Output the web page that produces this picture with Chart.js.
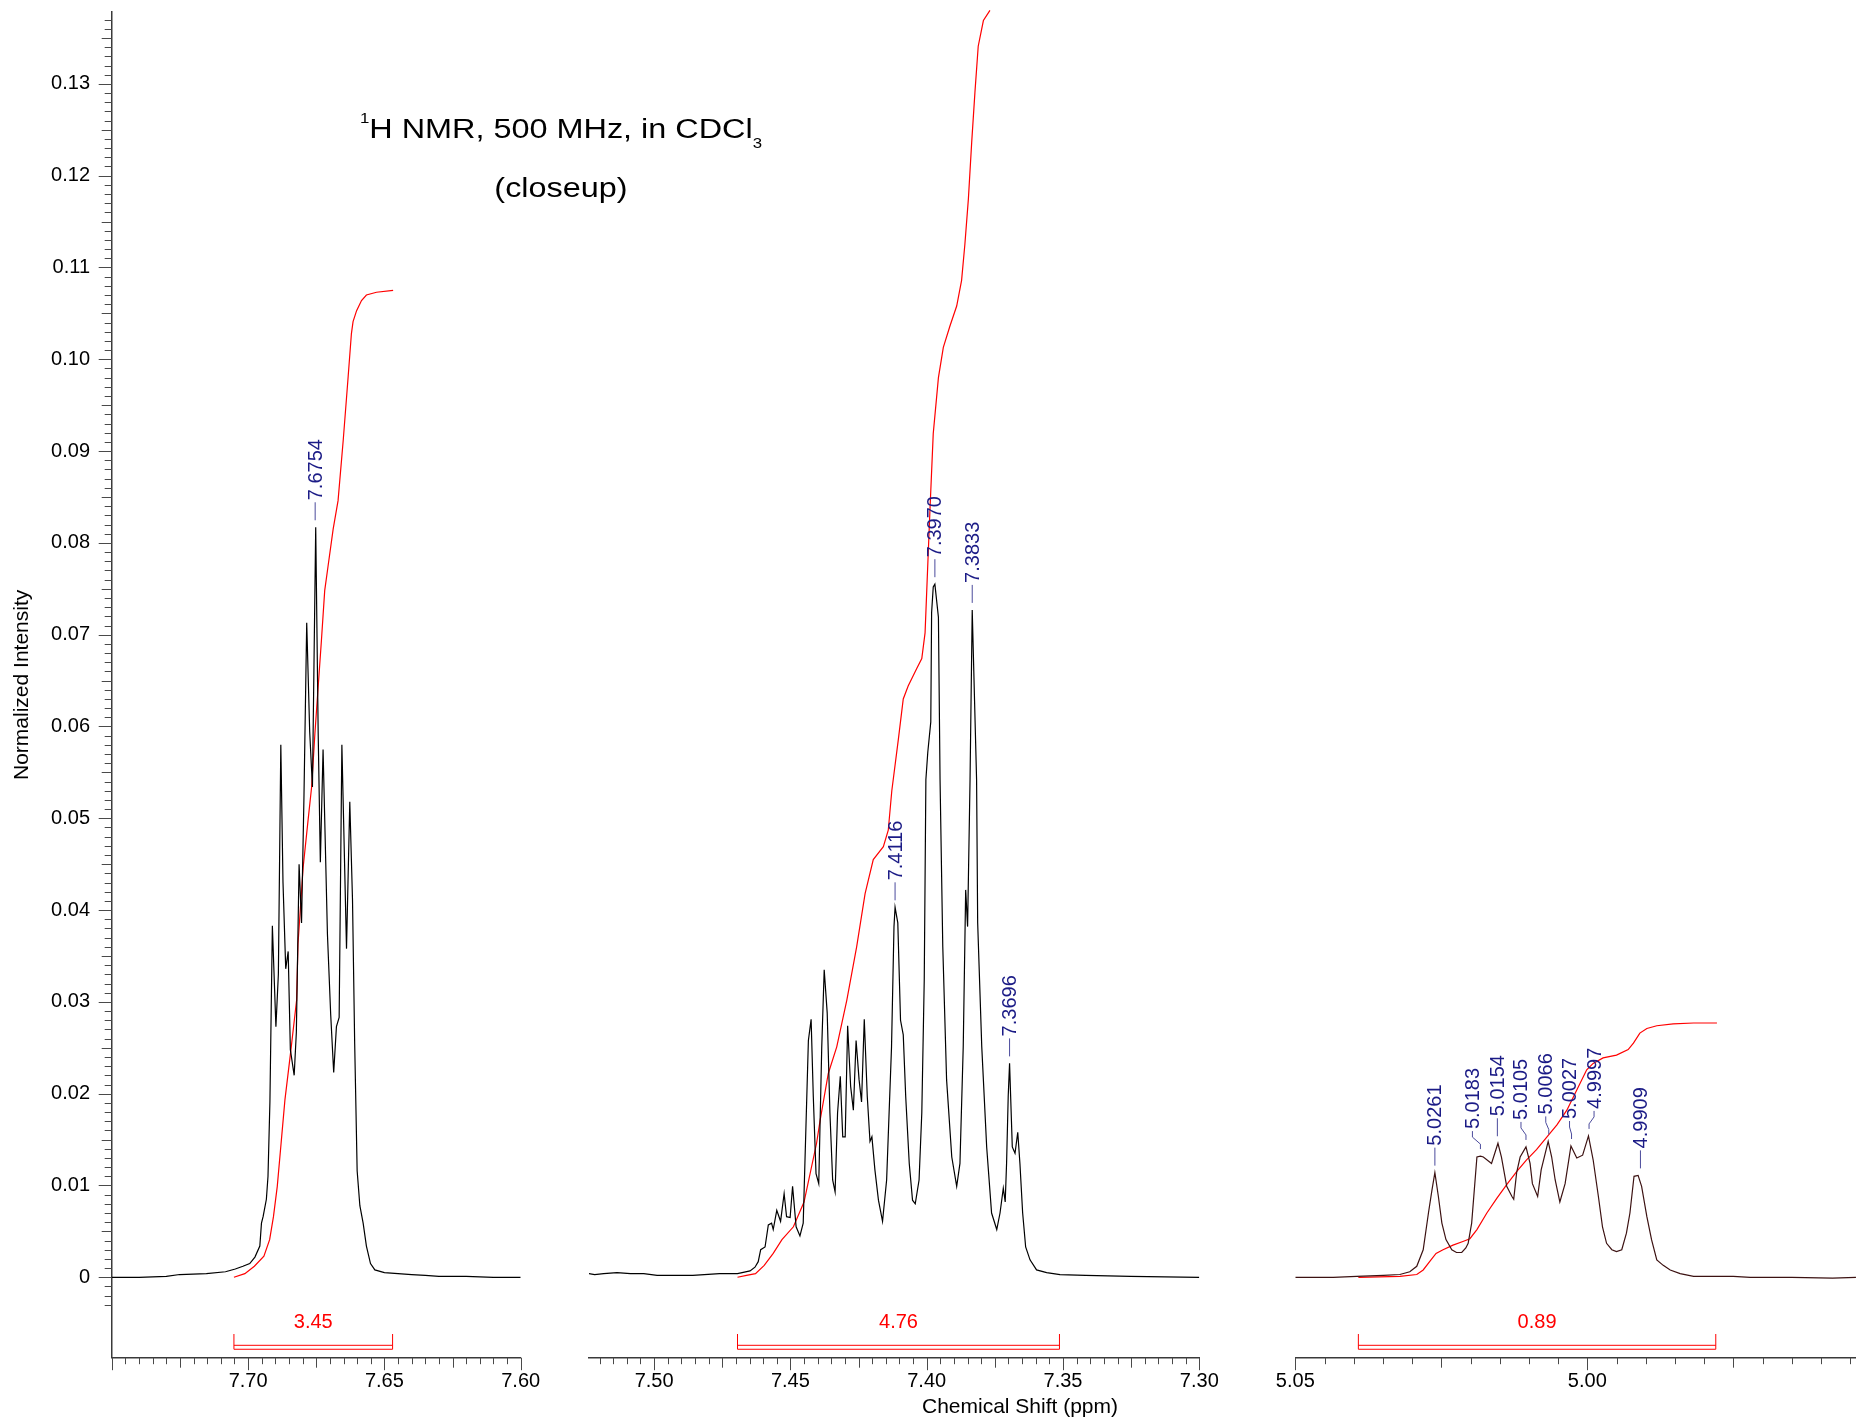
<!DOCTYPE html>
<html>
<head>
<meta charset="utf-8">
<title>1H NMR closeup</title>
<script src="https://cdn.jsdelivr.net/npm/chart.js@4.4.1/dist/chart.umd.min.js"></script>
<style>
    body { margin: 0; width: 1856px; height: 1420px; overflow: hidden; position: relative; background: #fff;
           font-family: "Liberation Sans", Arial, sans-serif; color: #000; }
    canvas { position: absolute; top: 0; }
    .txt { position: absolute; white-space: nowrap; text-align: center; }
    #title1, #title2 { left: 0; width: 1122px; font-size: 27px; line-height: 30px; transform: scaleX(1.2); transform-origin: 561px 0; }
    #title1 { top: 114px; }
    #title2 { top: 173px; }
    .sup, .sub { font-size: 14px; position: relative; }
    .sup { top: -15px; }
    .sub { top: 10px; }
    #xtitle { left: 820px; width: 400px; top: 1394px; font-size: 21px; line-height: 24px; }
</style>
</head>
<body>
<canvas id="seg1" width="560" height="1420" style="left:0px"></canvas>
<canvas id="seg2" width="690" height="1420" style="left:549px"></canvas>
<canvas id="seg3" width="601" height="1420" style="left:1255px"></canvas>
<div class="txt" id="title1"><span class="sup">1</span>H NMR, 500 MHz, in CDCl<span class="sub">3</span></div>
<div class="txt" id="title2">(closeup)</div>
<div class="txt" id="xtitle">Chemical Shift (ppm)</div>
<script>
// ---------------- data ----------------
// 7.60 - 7.75 ppm window
const spec1Ppm = [7.7504, 7.7400, 7.7300, 7.7251, 7.7153, 7.7083, 7.7047, 7.7019, 7.6994, 7.6975, 7.6957, 7.6951, 7.6945, 7.6933, 7.6927, 7.6920, 7.6911, 7.6898, 7.6889, 7.6880, 7.6872, 7.6862, 7.6853, 7.6845, 7.6831, 7.6823, 7.6813, 7.6804, 7.6795, 7.6785, 7.6774, 7.6764, 7.6752, 7.6743, 7.6735, 7.6725, 7.6709, 7.6697, 7.6686, 7.6676, 7.6666, 7.6656, 7.6639, 7.6627, 7.6617, 7.6609, 7.6600, 7.6590, 7.6578, 7.6566, 7.6551, 7.6535, 7.6500, 7.6450, 7.6400, 7.6350, 7.6300, 7.6200, 7.6100, 7.6000];
const spec1Int = [0.0000, 0.0000, 0.0001, 0.0003, 0.0004, 0.0006, 0.0009, 0.0012, 0.0015, 0.0022, 0.0034, 0.0059, 0.0066, 0.0085, 0.0110, 0.0191, 0.0383, 0.0273, 0.0330, 0.0580, 0.0430, 0.0336, 0.0355, 0.0248, 0.0220, 0.0267, 0.0450, 0.0386, 0.0525, 0.0713, 0.0594, 0.0534, 0.0817, 0.0594, 0.0452, 0.0575, 0.0374, 0.0286, 0.0223, 0.0273, 0.0283, 0.0580, 0.0358, 0.0518, 0.0411, 0.0254, 0.0116, 0.0078, 0.0059, 0.0034, 0.0015, 0.0008, 0.0005, 0.0004, 0.0003, 0.0002, 0.0001, 0.0001, 0.0000, 0.0000];

// 7.30 - 7.52 ppm window
const spec2Ppm = [7.5239, 7.5218, 7.5185, 7.5136, 7.5087, 7.5038, 7.4989, 7.4923, 7.4858, 7.4760, 7.4694, 7.4648, 7.4630, 7.4618, 7.4609, 7.4593, 7.4581, 7.4569, 7.4563, 7.4550, 7.4536, 7.4523, 7.4514, 7.4501, 7.4492, 7.4479, 7.4465, 7.4453, 7.4434, 7.4424, 7.4416, 7.4406, 7.4396, 7.4385, 7.4376, 7.4365, 7.4355, 7.4345, 7.4336, 7.4327, 7.4317, 7.4308, 7.4299, 7.4290, 7.4279, 7.4269, 7.4259, 7.4248, 7.4239, 7.4229, 7.4218, 7.4208, 7.4201, 7.4190, 7.4177, 7.4162, 7.4147, 7.4129, 7.4120, 7.4116, 7.4106, 7.4096, 7.4086, 7.4077, 7.4064, 7.4052, 7.4042, 7.4028, 7.4018, 7.4009, 7.4003, 7.3996, 7.3985, 7.3982, 7.3976, 7.3970, 7.3957, 7.3951, 7.3941, 7.3927, 7.3908, 7.3890, 7.3878, 7.3866, 7.3857, 7.3850, 7.3841, 7.3833, 7.3817, 7.3813, 7.3798, 7.3780, 7.3762, 7.3743, 7.3731, 7.3719, 7.3712, 7.3707, 7.3701, 7.3696, 7.3686, 7.3676, 7.3666, 7.3658, 7.3648, 7.3637, 7.3621, 7.3597, 7.3560, 7.3511, 7.3417, 7.3253, 7.3000];
const spec2Int = [0.0004, 0.0003, 0.0004, 0.0005, 0.0004, 0.0004, 0.0002, 0.0002, 0.0002, 0.0004, 0.0004, 0.0007, 0.0011, 0.0017, 0.0030, 0.0033, 0.0057, 0.0059, 0.0052, 0.0073, 0.0061, 0.0091, 0.0066, 0.0065, 0.0099, 0.0055, 0.0045, 0.0059, 0.0258, 0.0281, 0.0197, 0.0113, 0.0102, 0.0251, 0.0335, 0.0288, 0.0179, 0.0106, 0.0093, 0.0179, 0.0219, 0.0153, 0.0153, 0.0274, 0.0208, 0.0182, 0.0258, 0.0215, 0.0191, 0.0281, 0.0197, 0.0148, 0.0153, 0.0117, 0.0084, 0.0061, 0.0106, 0.0251, 0.0382, 0.0403, 0.0386, 0.0280, 0.0264, 0.0197, 0.0124, 0.0084, 0.0080, 0.0106, 0.0179, 0.0324, 0.0542, 0.0572, 0.0605, 0.0724, 0.0752, 0.0755, 0.0719, 0.0542, 0.0360, 0.0215, 0.0131, 0.0099, 0.0124, 0.0251, 0.0422, 0.0382, 0.0542, 0.0727, 0.0542, 0.0386, 0.0251, 0.0142, 0.0070, 0.0052, 0.0070, 0.0097, 0.0082, 0.0124, 0.0197, 0.0233, 0.0142, 0.0135, 0.0158, 0.0124, 0.0070, 0.0033, 0.0019, 0.0008, 0.0005, 0.0003, 0.0002, 0.0001, 0.0000];

// 4.95 - 5.05 ppm window
const spec3Ppm = [5.0500, 5.0492, 5.0435, 5.0395, 5.0349, 5.0321, 5.0304, 5.0292, 5.0281, 5.0272, 5.0266, 5.0261, 5.0255, 5.0249, 5.0242, 5.0232, 5.0224, 5.0215, 5.0208, 5.0204, 5.0198, 5.0189, 5.0183, 5.0178, 5.0164, 5.0153, 5.0147, 5.0138, 5.0129, 5.0126, 5.0121, 5.0115, 5.0105, 5.0098, 5.0094, 5.0085, 5.0079, 5.0067, 5.0061, 5.0055, 5.0047, 5.0038, 5.0028, 5.0018, 5.0008, 4.9998, 4.9990, 4.9981, 4.9974, 4.9967, 4.9958, 4.9950, 4.9941, 4.9933, 4.9927, 4.9920, 4.9913, 4.9907, 4.9898, 4.9890, 4.9881, 4.9870, 4.9858, 4.9841, 4.9818, 4.9790, 4.9750, 4.9721, 4.9650, 4.9580, 4.9540];
const spec3Int = [0.0000, 0.0000, 0.0000, 0.0001, 0.0002, 0.0003, 0.0006, 0.0012, 0.0030, 0.0070, 0.0095, 0.0114, 0.0088, 0.0059, 0.0041, 0.0030, 0.0027, 0.0027, 0.0032, 0.0037, 0.0059, 0.0131, 0.0132, 0.0131, 0.0124, 0.0146, 0.0131, 0.0099, 0.0088, 0.0085, 0.0114, 0.0131, 0.0142, 0.0124, 0.0102, 0.0088, 0.0117, 0.0148, 0.0131, 0.0106, 0.0082, 0.0102, 0.0143, 0.0130, 0.0133, 0.0154, 0.0128, 0.0088, 0.0055, 0.0037, 0.0030, 0.0028, 0.0030, 0.0048, 0.0070, 0.0110, 0.0111, 0.0099, 0.0066, 0.0041, 0.0019, 0.0013, 0.0008, 0.0004, 0.0001, 0.0001, 0.0001, 0.0000, 0.0000, -0.0001, 0.0000];

// integral curves (red)
const integ1Ppm = [7.7052, 7.7012, 7.6977, 7.6942, 7.6921, 7.6907, 7.6893, 7.6879, 7.6865, 7.6844, 7.6822, 7.6817, 7.6798, 7.6780, 7.6767, 7.6755, 7.6743, 7.6731, 7.6719, 7.6707, 7.6688, 7.6670, 7.6651, 7.6633, 7.6621, 7.6615, 7.6602, 7.6584, 7.6566, 7.6529, 7.6468];
const integ1Int = [0.0000, 0.0004, 0.0012, 0.0023, 0.0041, 0.0066, 0.0099, 0.0146, 0.0193, 0.0245, 0.0302, 0.0363, 0.0447, 0.0498, 0.0534, 0.0592, 0.0643, 0.0694, 0.0748, 0.0774, 0.0815, 0.0846, 0.0912, 0.0981, 0.1028, 0.1041, 0.1053, 0.1064, 0.1070, 0.1073, 0.1075];
const integ2Ppm = [7.4694, 7.4661, 7.4628, 7.4596, 7.4563, 7.4531, 7.4489, 7.4450, 7.4404, 7.4391, 7.4361, 7.4330, 7.4293, 7.4257, 7.4226, 7.4196, 7.4159, 7.4141, 7.4128, 7.4104, 7.4086, 7.4068, 7.4037, 7.4018, 7.4006, 7.3988, 7.3976, 7.3957, 7.3939, 7.3915, 7.3890, 7.3872, 7.3860, 7.3847, 7.3835, 7.3823, 7.3811, 7.3792, 7.3768];
const integ2Int = [0.0000, 0.0002, 0.0004, 0.0013, 0.0026, 0.0041, 0.0055, 0.0082, 0.0146, 0.0171, 0.0222, 0.0251, 0.0302, 0.0360, 0.0418, 0.0455, 0.0469, 0.0487, 0.0530, 0.0586, 0.0630, 0.0644, 0.0663, 0.0674, 0.0702, 0.0836, 0.0919, 0.0980, 0.1013, 0.1036, 0.1058, 0.1086, 0.1125, 0.1175, 0.1236, 0.1291, 0.1341, 0.1369, 0.1380];
const integ3Ppm = [5.0392, 5.0321, 5.0292, 5.0281, 5.0270, 5.0259, 5.0247, 5.0230, 5.0213, 5.0201, 5.0189, 5.0172, 5.0155, 5.0138, 5.0121, 5.0104, 5.0087, 5.0069, 5.0052, 5.0035, 5.0018, 5.0001, 4.9990, 4.9973, 4.9950, 4.9930, 4.9921, 4.9910, 4.9898, 4.9881, 4.9853, 4.9818, 4.9778];
const integ3Int = [0.0000, 0.0001, 0.0003, 0.0008, 0.0017, 0.0026, 0.0030, 0.0035, 0.0039, 0.0042, 0.0052, 0.0070, 0.0086, 0.0101, 0.0115, 0.0128, 0.0139, 0.0153, 0.0166, 0.0182, 0.0204, 0.0226, 0.0233, 0.0239, 0.0242, 0.0248, 0.0255, 0.0266, 0.0271, 0.0274, 0.0276, 0.0277, 0.0277];

// integration ranges and values
const integralFrom = [7.7052, 7.4694, 5.0392];
const integralTo = [7.6470, 7.3513, 4.9780];
const integralValue = ['3.45', '4.76', '0.89'];

// picked peaks
const peakPpm = [7.6754, 7.4116, 7.3970, 7.3833, 7.3696, 5.0261, 5.0183, 5.0154, 5.0105, 5.0066, 5.0027, 4.9997, 4.9909];
const peakInt = [0.0817, 0.0403, 0.0755, 0.0727, 0.0233, 0.0114, 0.0132, 0.0146, 0.0142, 0.0148, 0.0143, 0.0154, 0.0111];

// tick labels
const xTicks1 = [7.70, 7.65, 7.60];
const xTicks2 = [7.50, 7.45, 7.40, 7.35, 7.30];
const xTicks3 = [5.05, 5.00];
const yTicks = [0, 0.01, 0.02, 0.03, 0.04, 0.05, 0.06, 0.07, 0.08, 0.09, 0.10, 0.11, 0.12, 0.13];

// ---------------- layout / style ----------------
const FONT = '"Liberation Sans", Arial, sans-serif';
const Y_MIN = -0.00876, Y_MAX = 0.13783;
const LABEL_COLOR = '#1b1b86';
const LEADER_COLOR = '#4b4b9c';
const TICK_COLOR = '#4a4a4a';
// sideways shift (px) of crowded peak labels, same order as peakPpm
const labelShift = [0, 0, 0, 0, 0, 0, -8, 0, -5, -3, -2, 5, 0];

Chart.defaults.font.family = FONT;
Chart.defaults.color = '#000';

const toPoints = (xs, ys) => xs.map((v, i) => ({ x: v, y: ys[i] }));

// minor ticks, peak labels and integral brackets
const decorations = {
    id: 'decorations',
    afterDraw(chart) {
        const { ctx, chartArea: area, scales: { x, y } } = chart;
        ctx.save();

        // x ticks every 0.005 ppm
        ctx.strokeStyle = TICK_COLOR;
        ctx.lineWidth = 1;
        ctx.beginPath();
        const lo = Math.ceil(x.min * 200 - 1e-6), hi = Math.floor(x.max * 200 + 1e-6);
        for (let k = lo; k <= hi; k++) {
            const px = Math.round(x.getPixelForValue(k / 200)) + 0.5;
            const len = k % 10 === 0 ? 12.5 : (k % 5 === 0 ? 10 : 6.5);
            ctx.moveTo(px, area.bottom);
            ctx.lineTo(px, area.bottom + len);
        }
        // y ticks every 0.001 (only on the first panel)
        if (chart.options.scales.y.display) {
            for (let k = -3; k <= 137; k++) {
                const py = Math.round(y.getPixelForValue(k / 1000)) + 0.5;
                const len = k % 10 === 0 ? 13 : (k % 5 === 0 ? 10 : 7);
                ctx.moveTo(area.left - len, py);
                ctx.lineTo(area.left, py);
            }
        }
        ctx.stroke();

        // peak labels
        ctx.font = '20px ' + FONT;
        peakPpm.forEach((p, i) => {
            if (p < x.min || p > x.max) return;
            const px = x.getPixelForValue(p);
            const py = y.getPixelForValue(peakInt[i]);
            const tx = px + labelShift[i];
            ctx.strokeStyle = LEADER_COLOR;
            ctx.beginPath();
            ctx.moveTo(px, py - 7);
            if (labelShift[i] !== 0) {
                ctx.lineTo(px, py - 12);
                ctx.lineTo(tx, py - 19);
            }
            ctx.lineTo(tx, py - 25);
            ctx.stroke();
            ctx.save();
            ctx.translate(tx, py - 27);
            ctx.rotate(-Math.PI / 2);
            ctx.fillStyle = LABEL_COLOR;
            ctx.textAlign = 'left';
            ctx.textBaseline = 'middle';
            ctx.fillText(p.toFixed(4), 0, 1);
            ctx.restore();
        });

        // integral brackets
        integralFrom.forEach((a, i) => {
            if (a < x.min || a > x.max) return;
            const x1 = x.getPixelForValue(a), x2 = x.getPixelForValue(integralTo[i]);
            const yTop = y.getPixelForValue(-0.00618);
            const yA = y.getPixelForValue(-0.00741);
            const yB = y.getPixelForValue(-0.00784);
            ctx.strokeStyle = '#ff0000';
            ctx.lineWidth = 1;
            ctx.beginPath();
            ctx.moveTo(x1, yTop); ctx.lineTo(x1, yB);
            ctx.moveTo(x2, yTop); ctx.lineTo(x2, yB);
            ctx.moveTo(x1, yA); ctx.lineTo(x2, yA);
            ctx.moveTo(x1, yB); ctx.lineTo(x2, yB);
            ctx.stroke();
            ctx.fillStyle = '#ff0000';
            ctx.textAlign = 'center';
            ctx.textBaseline = 'middle';
            ctx.fillText(integralValue[i], (x1 + x2) / 2, y.getPixelForValue(-0.00492));
        });
        ctx.restore();
    }
};

function makePanel(id, cfg) {
    new Chart(document.getElementById(id), {
        type: 'line',
        data: {
            datasets: [
                { data: toPoints(cfg.specPpm, cfg.specInt), borderColor: cfg.specColor, borderWidth: 1.2 },
                { data: toPoints(cfg.integPpm, cfg.integInt), borderColor: '#ff0000', borderWidth: 1.2, clip: false }
            ]
        },
        options: {
            responsive: false,
            animation: false,
            devicePixelRatio: 1,
            elements: { point: { radius: 0 }, line: { tension: 0 } },
            layout: { padding: { top: 12, bottom: 0, left: cfg.padLeft, right: cfg.padRight } },
            plugins: { legend: { display: false }, tooltip: { enabled: false } },
            scales: {
                x: {
                    type: 'linear',
                    reverse: true,
                    min: cfg.min,
                    max: cfg.max,
                    grid: { display: false, drawTicks: false },
                    border: { display: true, color: '#3a3a3a', width: 1.5 },
                    afterBuildTicks: scale => { scale.ticks = cfg.ticks.map(v => ({ value: v })); },
                    afterFit: scale => {
                        scale.height = 62.3;
                        scale.paddingLeft = 0;
                        scale.paddingRight = 0;
                    },
                    ticks: {
                        autoSkip: false, maxRotation: 0, padding: 12,
                        font: { size: 20 }, color: '#000',
                        callback: v => v.toFixed(2)
                    }
                },
                y: {
                    type: 'linear',
                    display: cfg.showY,
                    min: Y_MIN,
                    max: Y_MAX,
                    grid: { display: false, drawTicks: false },
                    border: { display: true, color: '#3a3a3a', width: 1.5 },
                    afterBuildTicks: scale => { scale.ticks = yTicks.map(v => ({ value: v })); },
                    afterFit: scale => {
                        scale.width = cfg.showY ? 111.7 : 0;
                        scale.paddingTop = 0;
                        scale.paddingBottom = 0;
                    },
                    title: {
                        display: true, text: 'Normalized Intensity',
                        font: { size: 21 }, color: '#000', padding: { top: 10, bottom: 0 }
                    },
                    ticks: {
                        padding: 21.7, font: { size: 20 }, color: '#000',
                        callback: v => v === 0 ? '0' : v.toFixed(2)
                    }
                }
            }
        },
        plugins: [decorations]
    });
}

makePanel('seg1', {
    specPpm: spec1Ppm, specInt: spec1Int, integPpm: integ1Ppm, integInt: integ1Int,
    specColor: '#000000', min: 7.60, max: 7.75004, ticks: xTicks1,
    padLeft: 0, padRight: 39.3, showY: true
});
makePanel('seg2', {
    specPpm: spec2Ppm, specInt: spec2Int, integPpm: integ2Ppm, integInt: integ2Int,
    specColor: '#000000', min: 7.30, max: 7.52388, ticks: xTicks2,
    padLeft: 40, padRight: 39.7, showY: false
});
makePanel('seg3', {
    specPpm: spec3Ppm, specInt: spec3Int, integPpm: integ3Ppm, integInt: integ3Int,
    specColor: '#3c1212', min: 4.95399, max: 5.05, ticks: xTicks3,
    padLeft: 40.3, padRight: 0, showY: false
});
</script>
</body>
</html>
